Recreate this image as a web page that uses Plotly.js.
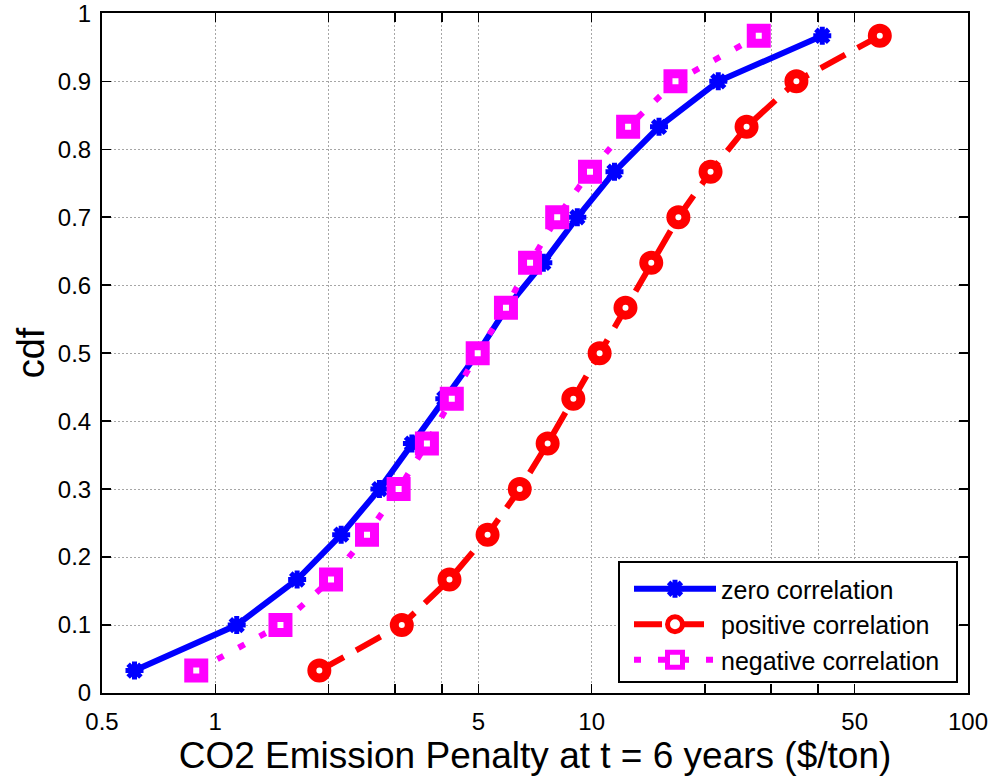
<!DOCTYPE html>
<html>
<head>
<meta charset="utf-8">
<script src="https://cdn.plot.ly/plotly-3.0.1.min.js"></script>
<style>
  html, body { margin: 0; padding: 0; background: #fff; }
  #chart { width: 992px; height: 777px; }
</style>
</head>
<body>
<div id="chart"></div>
<script>
// Cumulative probability levels shared by all three curves
const cdfLevels = [0.033, 0.1, 0.167, 0.233, 0.3, 0.367, 0.433, 0.5, 0.567, 0.633, 0.7, 0.767, 0.833, 0.9, 0.967];

// CO2 emission penalty ($/ton) at each cdf level
const zeroCorrelation     = [0.61, 1.14, 1.65, 2.16, 2.73, 3.33, 4.06, 4.98, 5.95, 7.44, 9.16, 11.5, 15.1, 21.7, 41.0];
const positiveCorrelation = [1.89, 3.13, 4.19, 5.29, 6.44, 7.64, 8.94, 10.5, 12.3, 14.4, 17.0, 20.7, 25.8, 35.0, 58.3];
const negativeCorrelation = [0.89, 1.49, 2.03, 2.53, 3.07, 3.65, 4.25, 4.98, 5.92, 6.86, 8.10, 9.90, 12.5, 16.7, 27.8];

// Axis ticks (log x axis keeps grid lines at the unlabelled minor values)
const xTickVals = [0.5, 1, 2, 3, 4, 5, 10, 20, 30, 40, 50, 100];
const xTickText = ['0.5', '1', '', '', '', '5', '10', '', '', '', '50', '100'];
const yTickVals = [0, 0.1, 0.2, 0.3, 0.4, 0.5, 0.6, 0.7, 0.8, 0.9, 1];
const yTickText = ['0', '0.1', '0.2', '0.3', '0.4', '0.5', '0.6', '0.7', '0.8', '0.9', '1'];

const FONT = 'Liberation Sans, Arial, Helvetica, sans-serif';

const traces = [
  {
    name: 'zero correlation',
    x: zeroCorrelation, y: cdfLevels,
    type: 'scatter', mode: 'lines+markers',
    line: { color: '#0000ff', width: 6 },
    marker: { symbol: 'asterisk-open', size: 15, color: '#0000ff', line: { color: '#0000ff', width: 5 } }
  },
  {
    name: 'positive correlation',
    x: positiveCorrelation, y: cdfLevels,
    type: 'scatter', mode: 'lines+markers',
    line: { color: '#ff0000', width: 6, dash: '28px,14px' },
    marker: { symbol: 'circle', size: 15, color: '#ffffff', line: { color: '#ff0000', width: 9 } }
  },
  {
    name: 'negative correlation',
    x: negativeCorrelation, y: cdfLevels,
    type: 'scatter', mode: 'lines+markers',
    line: { color: '#ff00ff', width: 6, dash: '7px,17px' },
    marker: { symbol: 'square', size: 15, color: '#ffffff', line: { color: '#ff00ff', width: 9 } }
  }
];

const axisCommon = {
  showline: true, linecolor: '#000', linewidth: 2, mirror: 'ticks',
  ticks: 'inside', ticklen: 9, tickwidth: 1.5, tickcolor: '#000',
  showgrid: true, gridcolor: '#a6a6a6', gridwidth: 1, griddash: '2px,2px',
  zeroline: false,
  ticklabeloverflow: 'allow',
  tickfont: { family: FONT, size: 24, color: '#000' }
};

const layout = {
  width: 992, height: 777,
  margin: { l: 102, r: 24, t: 13, b: 84 },
  paper_bgcolor: '#fff', plot_bgcolor: '#fff',
  showlegend: true,
  xaxis: Object.assign({}, axisCommon, {
    type: 'log',
    range: [Math.log10(0.5), Math.log10(100)],
    tickmode: 'array', tickvals: xTickVals, ticktext: xTickText,
    ticklabelstandoff: 6,
    title: { text: 'CO2 Emission Penalty at t = 6 years ($/ton)', font: { family: FONT, size: 37, color: '#000' }, standoff: 3 }
  }),
  yaxis: Object.assign({}, axisCommon, {
    range: [0, 1.0005],
    tickmode: 'array', tickvals: yTickVals, ticktext: yTickText,
    ticklabelstandoff: 4,
    title: { text: 'cdf', font: { family: FONT, size: 38, color: '#000' }, standoff: 2 }
  }),
  // framed legend panel
  shapes: [{
    type: 'rect', xref: 'paper', yref: 'paper', layer: 'above',
    x0: (619 - 102) / 866, x1: (957 - 102) / 866,
    y0: (693 - 682) / 680, y1: (693 - 562) / 680,
    fillcolor: '#ffffff', line: { color: '#000', width: 2 }
  }],
  legend: {
    x: (629 - 102) / 866, xanchor: 'left', y: (693 - 566) / 680, yanchor: 'top',
    bgcolor: 'rgba(0,0,0,0)', borderwidth: 0,
    font: { family: FONT, size: 25, color: '#000' },
    itemwidth: 82
  }
};

Plotly.newPlot('chart', traces, layout, { displayModeBar: false, staticPlot: true });
</script>
</body>
</html>
